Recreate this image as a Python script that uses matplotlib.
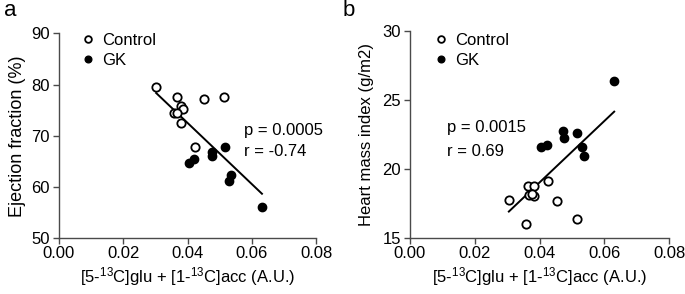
import numpy as np
import matplotlib
matplotlib.use("Agg")
import matplotlib.pyplot as plt

plt.rcParams['font.family'] = ['Liberation Sans', 'DejaVu Sans']
plt.rcParams['mathtext.fontset'] = 'custom'
plt.rcParams['mathtext.rm'] = 'Liberation Sans'
plt.rcParams['mathtext.it'] = 'Liberation Sans:italic'

# Panel a: ejection fraction
a_ctrl_x = [0.0302, 0.0366, 0.0451, 0.0514, 0.0379, 0.0385, 0.0356, 0.0366, 0.0379, 0.0422]
a_ctrl_y = [79.6, 77.6, 77.1, 77.6, 75.8, 75.2, 74.5, 74.4, 72.4, 67.9]
a_gk_x = [0.0403, 0.0421, 0.0475, 0.0475, 0.0515, 0.0535, 0.0530, 0.0631]
a_gk_y = [64.6, 65.5, 66.9, 66.1, 67.9, 62.4, 61.2, 56.1]

# Panel b: heart mass index
b_ctrl_x = [0.0305, 0.0358, 0.0365, 0.0383, 0.0368, 0.0384, 0.0377, 0.0426, 0.0453, 0.0516]
b_ctrl_y = [17.77, 16.03, 18.80, 18.80, 18.13, 18.06, 18.2, 19.14, 17.72, 16.37]
b_gk_x = [0.0403, 0.0422, 0.0473, 0.0476, 0.0516, 0.0532, 0.0538, 0.0630]
b_gk_y = [21.57, 21.74, 22.75, 22.22, 22.59, 21.62, 20.95, 26.39]

xticks = [0.00, 0.02, 0.04, 0.06, 0.08]
xticklabels = ["0.00", "0.02", "0.04", "0.06", "0.08"]
a_yticks = [50, 60, 70, 80, 90]
b_yticks = [15, 20, 25, 30]
xlabel = "[5-$^{13}$C]glu + [1-$^{13}$C]acc (A.U.)"
a_ylabel = "Ejection fraction (%)"
b_ylabel = "Heart mass index (g/m2)"
a_stats = ["p = 0.0005", "r = -0.74"]
b_stats = ["p = 0.0015", "r = 0.69"]

fig = plt.figure(figsize=(6.85, 2.94), dpi=100)
axA = fig.add_axes([0.0861, 0.1895, 0.3757, 0.6972])
axB = fig.add_axes([0.5985, 0.1895, 0.3786, 0.7061])

spine_c = '#4a4a4a'
FS = 12

def style(ax, ylim, yticks, ylabel, ylfs, ylx):
    for s in ['top', 'right']:
        ax.spines[s].set_visible(False)
    for s in ['left', 'bottom']:
        ax.spines[s].set_color(spine_c)
        ax.spines[s].set_linewidth(1.0)
    ax.set_xlim(0, 0.08)
    ax.set_ylim(*ylim)
    ax.set_xticks(xticks)
    ax.set_xticklabels(xticklabels)
    ax.set_yticks(yticks)
    ax.tick_params(direction='out', length=4, width=1.0, color=spine_c,
                   labelsize=FS)
    ax.tick_params(axis='x', pad=1.5)
    ax.tick_params(axis='y', pad=2.5)
    ax.set_xlabel(xlabel, fontsize=FS)
    ax.xaxis.set_label_coords(0.5, -0.185)
    ax.xaxis.label.set_va('center')
    ax.set_ylabel(ylabel, fontsize=ylfs)
    ax.yaxis.set_label_coords(ylx, 0.5)
    ax.yaxis.label.set_va('center')

def draw(ax, cx, cy, gx, gy, lx, ly):
    ax.plot(cx, cy, 'o', ms=6, mfc='white', mec='black', mew=1.3,
            clip_on=False, zorder=3, label='Control')
    ax.plot(gx, gy, 'o', ms=6, mfc='black', mec='black', mew=1.0,
            clip_on=False, zorder=3, label='GK')
    allx = np.array(cx + gx)
    ally = np.array(cy + gy)
    k, b = np.polyfit(allx, ally, 1)
    xs = np.array([allx.min(), allx.max()])
    ax.plot(xs, k * xs + b, color='black', lw=1.4, zorder=2)
    ax.legend(loc='upper left', bbox_to_anchor=(lx, ly), frameon=False,
              fontsize=FS, handletextpad=0.3, borderaxespad=0.0, borderpad=0.0,
              markerscale=0.8, labelspacing=0.3, handlelength=1.0)

style(axA, (50, 90), a_yticks, a_ylabel, 13, -0.163)
draw(axA, a_ctrl_x, a_ctrl_y, a_gk_x, a_gk_y, 0.082, 1.0)
axA.text(0.72, 0.528, a_stats[0], transform=axA.transAxes, fontsize=FS, va='center')
axA.text(0.72, 0.422, a_stats[1], transform=axA.transAxes, fontsize=FS, va='center')

style(axB, (15, 30), b_yticks, b_ylabel, 12, -0.166)
draw(axB, b_ctrl_x, b_ctrl_y, b_gk_x, b_gk_y, 0.089, 0.99)
axB.text(0.1415, 0.535, b_stats[0], transform=axB.transAxes, fontsize=FS, va='center')
axB.text(0.1415, 0.417, b_stats[1], transform=axB.transAxes, fontsize=FS, va='center')

fig.text(4 / 685, 1 - 11 / 294, 'a', fontsize=16, va='center', ha='left')
fig.text(343 / 685, 1 - 11 / 294, 'b', fontsize=16, va='center', ha='left')

fig.savefig('out.png', dpi=100)
